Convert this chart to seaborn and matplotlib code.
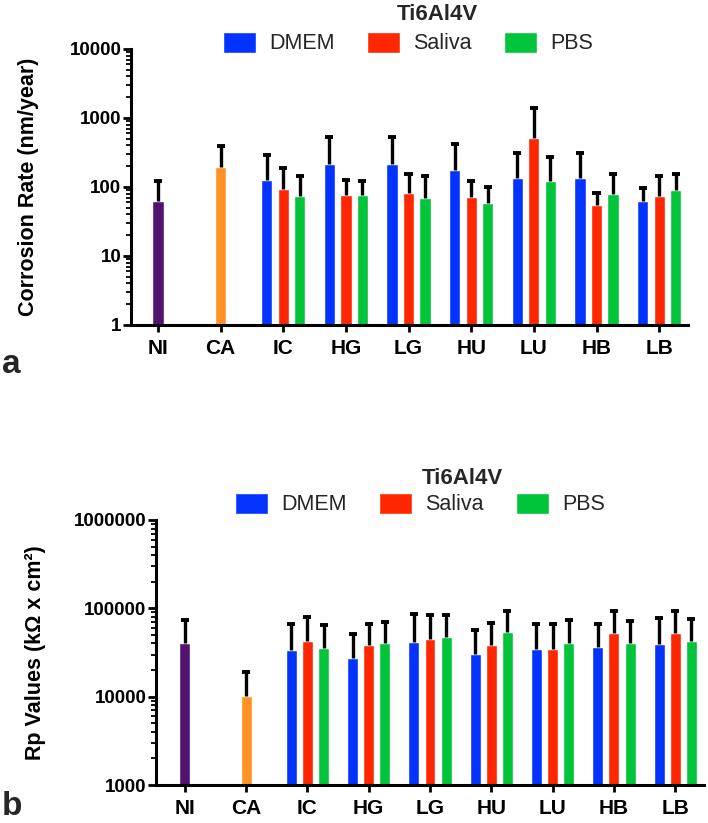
import numpy as np
import pandas as pd
import matplotlib
matplotlib.use("Agg")
import matplotlib.pyplot as plt
import matplotlib.ticker as mticker
import seaborn as sns

# ---------------- data ----------------
categories = ["NI", "CA", "IC", "HG", "LG", "HU", "LU", "HB", "LB"]
single_cats = ["NI", "CA"]
group_cats = ["IC", "HG", "LG", "HU", "LU", "HB", "LB"]
media = ["DMEM", "Saliva", "PBS"]

# Panel a: corrosion rate (nm/year), mean and SD (upper error)
corr_single = [63, 195]
corr_single_sd = [61, 200]
corr_dmem = [128, 214, 214, 176, 135, 136, 62]
corr_dmem_sd = [163, 311, 311, 241, 181, 175, 34]
corr_saliva = [94, 76, 83, 71, 520, 55, 74]
corr_saliva_sd = [92, 51, 72, 52, 860, 27, 71]
corr_pbs = [74, 76, 70, 59, 124, 79, 90]
corr_pbs_sd = [68, 46, 73, 40, 149, 76, 65]

# Panel b: Rp values (kOhm x cm2)
rp_single = [40000, 10300]
rp_single_sd = [33000, 8700]
rp_dmem = [34000, 27500, 42000, 30500, 35000, 36500, 39000]
rp_dmem_sd = [33000, 23500, 45000, 26500, 31000, 30500, 39000]
rp_saliva = [43000, 38000, 45000, 38500, 35000, 53000, 52000]
rp_saliva_sd = [37000, 29000, 39000, 30500, 32000, 40000, 41000]
rp_pbs = [36000, 40000, 47000, 54000, 40000, 40500, 42500]
rp_pbs_sd = [29000, 30000, 38000, 40000, 33000, 31500, 33500]

media_colors = {"DMEM": "#0433FF", "Saliva": "#FF2600", "PBS": "#00C43A"}
single_colors = {"NI": "#52126F", "CA": "#FF9224"}

sns.set_theme(style="white")
plt.rcParams["font.family"] = ["Liberation Sans", "DejaVu Sans"]

fig = plt.figure(figsize=(7.08, 8.23), dpi=100)
W, H = 708, 823


def px_axes(l, r, t, b):
    return fig.add_axes([l / W, 1 - b / H, (r - l) / W, (b - t) / H])


def panel(ax, single, single_sd, dm, dm_sd, sa, sa_sd, pb, pb_sd,
          ylim, xlim, ylabel, ylabel_x):
    ax.set_yscale("log")
    grp = pd.DataFrame({
        "cat": group_cats * 3,
        "medium": [m for m in media for _ in group_cats],
        "val": dm + sa + pb,
        "sd": dm_sd + sa_sd + pb_sd,
    })
    sgl = pd.DataFrame({"cat": single_cats, "val": single, "sd": single_sd})

    sns.barplot(data=grp, x="cat", y="val", hue="medium", order=categories,
                hue_order=media, palette=media_colors, width=0.79, gap=0.32,
                errorbar=None, ax=ax, saturation=1)
    sns.barplot(data=sgl, x="cat", y="val", hue="cat", order=categories,
                hue_order=single_cats, palette=single_colors, width=0.18,
                dodge=False, errorbar=None, ax=ax, saturation=1, legend=False)

    sd_lookup = {}
    for _, r in grp.iterrows():
        sd_lookup[(r["cat"], r["medium"])] = r["sd"]
    for _, r in sgl.iterrows():
        sd_lookup[(r["cat"], None)] = r["sd"]

    pitch = 0.79 / 3
    for p in ax.patches:
        h = p.get_height()
        if not np.isfinite(h) or h <= 0:
            continue
        xc = p.get_x() + p.get_width() / 2
        ci = int(round(xc))
        cat = categories[ci]
        if cat in single_cats:
            key = (cat, None)
        else:
            mi = int(round((xc - ci) / pitch)) + 1
            key = (cat, media[mi])
        if key not in sd_lookup:
            continue
        top = h + sd_lookup[key]
        ax.vlines(xc, h, top, color="black", lw=2.4, zorder=4)
        ax.hlines(top, xc - 0.065, xc + 0.065, color="black", lw=2.8, zorder=4)

    ax.set_ylim(*ylim)
    ax.set_xlim(*xlim)
    ax.yaxis.set_major_locator(mticker.LogLocator(base=10, numticks=10))
    ax.yaxis.set_minor_locator(mticker.LogLocator(base=10, subs=np.arange(2, 10), numticks=50))
    ax.yaxis.set_major_formatter(mticker.FuncFormatter(lambda v, _: f"{int(round(v))}"))
    ax.yaxis.set_minor_formatter(mticker.NullFormatter())
    for s in ["top", "right"]:
        ax.spines[s].set_visible(False)
    for s in ["left", "bottom"]:
        ax.spines[s].set_linewidth(2.2)
        ax.spines[s].set_color("black")
    ax.tick_params(axis="y", which="major", left=True, length=6, width=2,
                   labelsize=13.5, pad=1, color="black")
    ax.tick_params(axis="y", which="minor", left=True, length=3.5, width=1.3, color="black")
    ax.tick_params(axis="x", which="major", bottom=True, length=5, width=2,
                   labelsize=15, pad=5, color="black")
    for lab in ax.get_yticklabels() + ax.get_xticklabels():
        lab.set_fontweight("bold")
        lab.set_color("black")
    ax.set_xlabel("")
    ax.set_ylabel(ylabel, fontsize=15.5, fontweight="bold", color="black")
    ax.yaxis.set_label_coords(ylabel_x, 0.5)
    ax.patch.set_alpha(0)
    handles, labels = ax.get_legend_handles_labels()
    if ax.get_legend() is not None:
        ax.get_legend().remove()
    return handles, labels


leg_kw = dict(loc="center", ncol=3, frameon=False, fontsize=15.5,
              handlelength=1.55, handleheight=1.15, handletextpad=0.6,
              columnspacing=1.5, borderpad=0)

# ---------- panel a ----------
ax1 = px_axes(131, 688, 49, 325)
h1, l1 = panel(ax1, corr_single, corr_single_sd, corr_dmem, corr_dmem_sd,
               corr_saliva, corr_saliva_sd, corr_pbs, corr_pbs_sd,
               (1, 10000), (-0.43, 8.46), "Corrosion Rate (nm/year)", -0.165)
fig.text(437 / W, 1 - 15 / H, "Ti6Al4V", ha="center", va="center",
         fontsize=16, fontweight="bold")
fig.legend(h1, l1, bbox_to_anchor=(408 / W, 1 - 43 / H), **leg_kw)
fig.text(2 / W, 1 - 373 / H, "a", ha="left", va="baseline", fontsize=24,
         fontweight="bold")

# ---------- panel b ----------
ax2 = px_axes(156, 704, 520, 785)
h2, l2 = panel(ax2, rp_single, rp_single_sd, rp_dmem, rp_dmem_sd,
               rp_saliva, rp_saliva_sd, rp_pbs, rp_pbs_sd,
               (1000, 1000000), (-0.47, 8.47), "Rp Values (kΩ x cm²)", -0.2)
fig.text(462 / W, 1 - 478 / H, "Ti6Al4V", ha="center", va="center",
         fontsize=16, fontweight="bold")
fig.legend(h2, l2, bbox_to_anchor=(420 / W, 1 - 504 / H), **leg_kw)
fig.text(2 / W, 1 - 815 / H, "b", ha="left", va="baseline", fontsize=24,
         fontweight="bold")

fig.savefig("out.png", dpi=100)
